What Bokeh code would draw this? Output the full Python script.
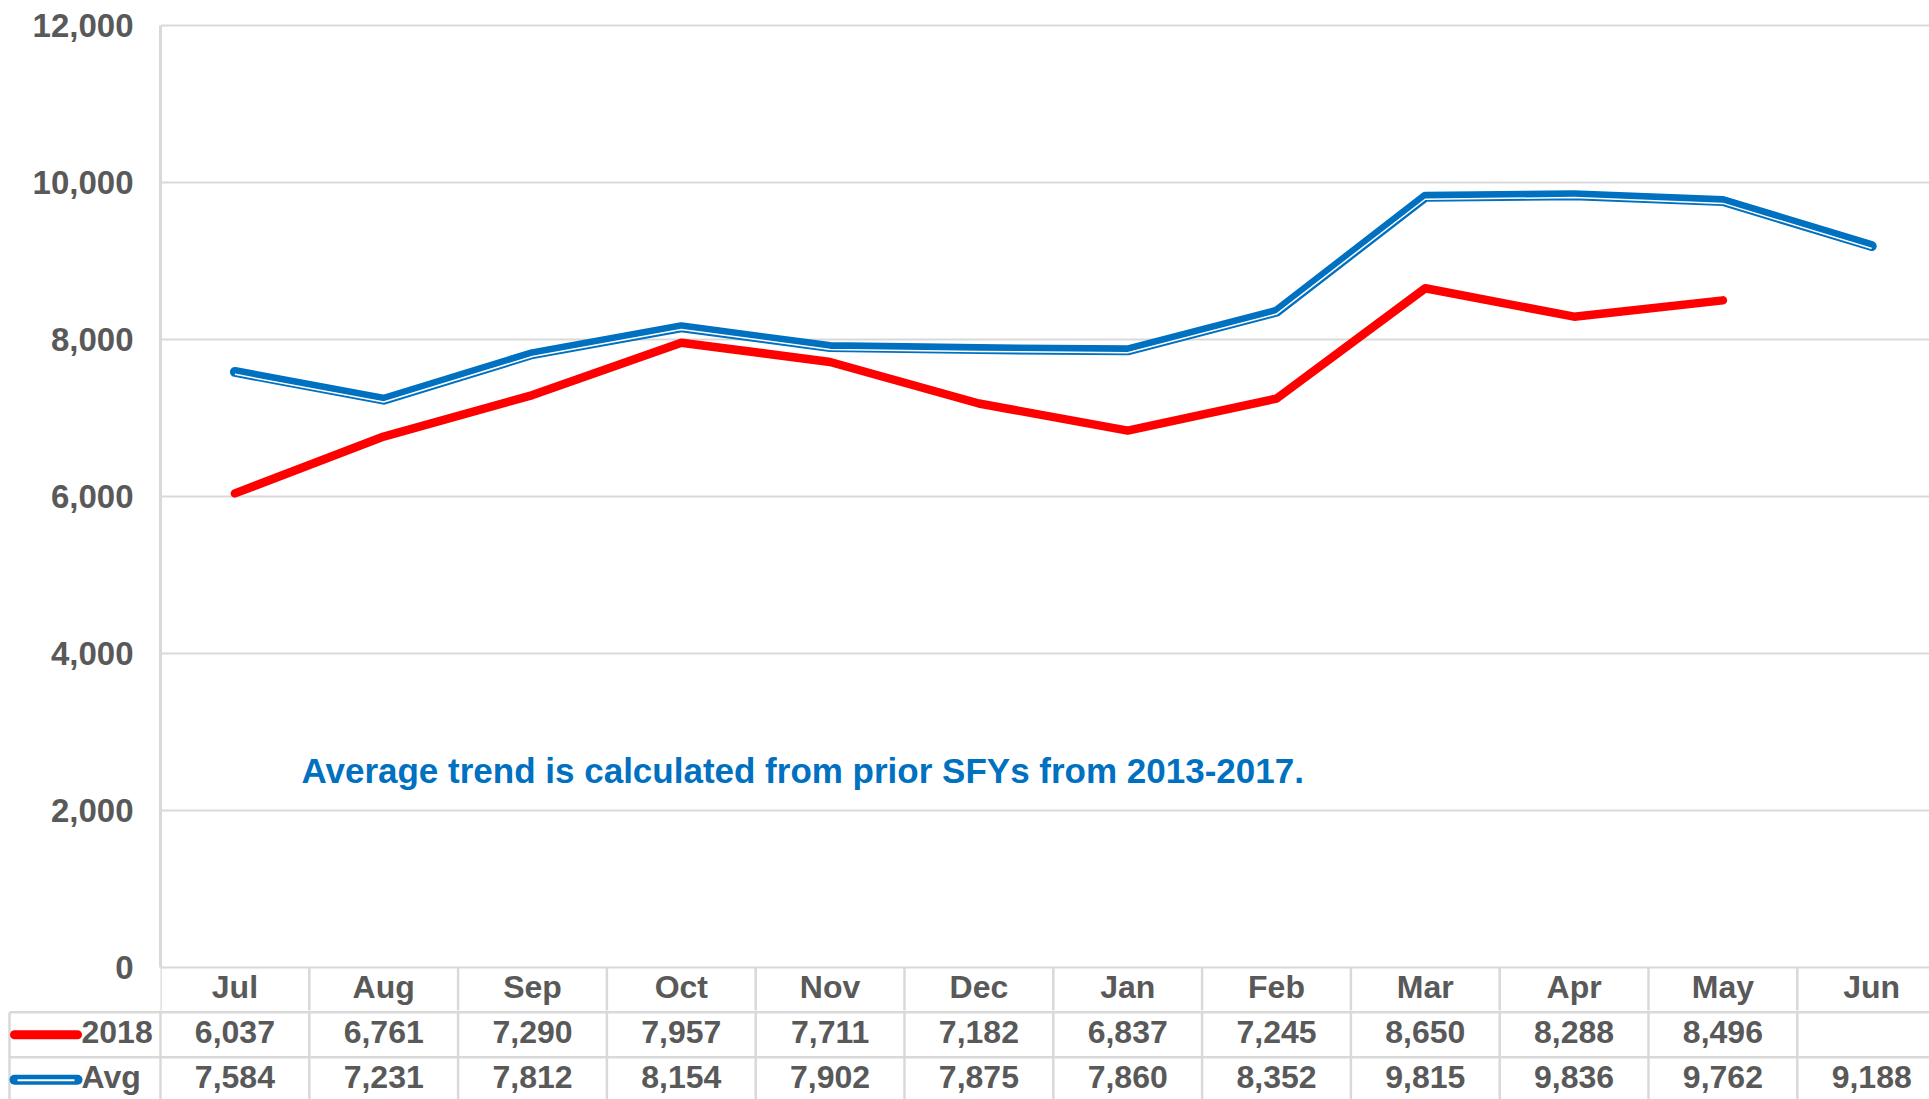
from bokeh.plotting import figure
from bokeh.layouts import column
from bokeh.models import Range1d, FixedTicker
from bokeh.core.properties import value
from bokeh.embed import file_html
from bokeh.resources import INLINE

# ---------------- data ----------------
months = ["Jul", "Aug", "Sep", "Oct", "Nov", "Dec", "Jan", "Feb", "Mar", "Apr", "May", "Jun"]
series_2018 = [6037, 6761, 7290, 7957, 7711, 7182, 6837, 7245, 8650, 8288, 8496]
series_avg = [7584, 7231, 7812, 8154, 7902, 7875, 7860, 8352, 9815, 9836, 9762, 9188]
series_names = ["2018", "Avg"]
y_ticks = [0, 2000, 4000, 6000, 8000, 10000, 12000]
y_tick_labels = ["0", "2,000", "4,000", "6,000", "8,000", "10,000", "12,000"]
note = "Average trend is calculated from prior SFYs from 2013-2017."

# ---------------- style / layout ----------------
RED = "#FF0000"
BLUE = "#0070C0"
TXT = "#595959"
GRID = "#D9D9D9"
FONT = "Liberation Sans"

W = 1929
H_TOTAL = 1099
FRAME_L = 160
FRAME_T = 20
FRAME_B = 1010          # chart frame includes the header (month) row
H1 = FRAME_B
H2 = H_TOTAL - H1
ZERO_Y = 966.8
TOP_Y = 24.8
CW = 148.8
ROW_H = 45
TXT_SHIFT = 2.5

ppu = (ZERO_Y - TOP_Y) / 12000.0
y0 = -(FRAME_B - ZERO_Y) / ppu
y1 = y0 + (FRAME_B - FRAME_T) / ppu
xmax = (W - FRAME_L) / CW


def py2y(py):
    return (ZERO_Y - py) / ppu


p = figure(width=W, height=H1, x_range=Range1d(0, xmax), y_range=Range1d(y0, y1),
           output_backend="svg", toolbar_location=None, x_axis_location=None,
           min_border_left=FRAME_L, min_border_top=FRAME_T,
           min_border_bottom=0, min_border_right=0)
p.frame_align = False
p.outline_line_color = None
p.background_fill_color = "white"
p.border_fill_color = "white"
p.xgrid.visible = False
p.ygrid.ticker = FixedTicker(ticks=y_ticks)
p.ygrid.grid_line_color = GRID
p.ygrid.grid_line_width = 2

ax = p.yaxis[0]
ax.ticker = FixedTicker(ticks=y_ticks)
ax.major_label_overrides = {t: l for t, l in zip(y_ticks, y_tick_labels)}
ax.bounds = (0, 12000)
ax.axis_line_color = GRID
ax.axis_line_width = 3
ax.major_tick_line_color = None
ax.minor_tick_line_color = None
ax.major_tick_out = 0
ax.major_tick_in = 0
ax.major_label_standoff = 27
ax.major_label_text_font = FONT
ax.major_label_text_font_style = "bold"
ax.major_label_text_font_size = "33px"
ax.major_label_text_color = TXT

xs = [i + 0.5 for i in range(len(months))]

# Avg: compound (thick-thin) line
p.line(xs, series_avg, line_color=BLUE, line_width=10, line_cap="round", line_join="round")
off = 2.4 / ppu
p.line(xs, [v - off for v in series_avg], line_color="white", line_width=1.5, line_join="round")
# 2018
p.line(xs[:len(series_2018)], series_2018, line_color=RED, line_width=8.5,
       line_cap="round", line_join="round")

p.text(x=[(301 - FRAME_L) / CW], y=[py2y(770)], text=[note],
       text_font=value(FONT), text_font_style="bold", text_font_size="35px",
       text_color=BLUE, text_align="left", text_baseline="alphabetic")

common = dict(text_font=value(FONT), text_font_style="bold", text_font_size="32px",
              text_color=TXT, text_baseline="middle")

# header row of the data table (inside chart frame, below zero)
edges_u = list(range(len(months) + 1))
p.segment(x0=edges_u, y0=[0] * len(edges_u), x1=edges_u, y1=[y0 - 50] * len(edges_u),
          line_color=GRID, line_width=2.5)
p.text(x=xs, y=[py2y(ZERO_Y + ROW_H / 2 - TXT_SHIFT)] * len(months), text=months,
       text_align="center", **common)

# ---------------- data rows ----------------
t = figure(width=W, height=H2, x_range=Range1d(0, W),
           y_range=Range1d(H_TOTAL, H1),
           output_backend="svg", toolbar_location=None,
           x_axis_location=None, y_axis_location=None, min_border=0)
t.frame_align = False
t.outline_line_color = None
t.grid.visible = False
t.background_fill_color = "white"
t.border_fill_color = "white"

col_edges = [FRAME_L + k * CW for k in range(len(months) + 1)]
t.segment(x0=col_edges, y0=[H1 - 5] * len(col_edges), x1=col_edges,
          y1=[H_TOTAL + 5] * len(col_edges), line_color=GRID, line_width=2.5)
row_lines = [ZERO_Y + ROW_H * r for r in (1, 2)]
t.segment(x0=[9, 9], y0=row_lines, x1=[W + 5] * 2, y1=row_lines,
          line_color=GRID, line_width=2.5)
t.segment(x0=[9], y0=[row_lines[0]], x1=[9], y1=[H_TOTAL + 5],
          line_color=GRID, line_width=2.5)

col_x = [FRAME_L + (i + 0.5) * CW for i in range(len(months))]
row_c = [ZERO_Y + ROW_H * (r + 0.5) for r in range(3)]
row_t = [c - TXT_SHIFT for c in row_c]
t.text(x=col_x[:len(series_2018)], y=[row_t[1]] * len(series_2018),
       text=[f"{v:,}" for v in series_2018], text_align="center", **common)
t.text(x=col_x, y=[row_t[2]] * len(series_avg),
       text=[f"{v:,}" for v in series_avg], text_align="center", **common)

# legend keys
t.segment(x0=[14], y0=[row_c[1]], x1=[77], y1=[row_c[1]], line_color=RED,
          line_width=9, line_cap="round")
t.segment(x0=[14], y0=[row_c[2]], x1=[77], y1=[row_c[2]], line_color=BLUE,
          line_width=10, line_cap="round")
t.segment(x0=[17], y0=[row_c[2] + 0.5], x1=[74], y1=[row_c[2] + 0.5], line_color="white",
          line_width=2)
t.text(x=[81, 81], y=[row_t[1], row_t[2]], text=series_names, text_align="left", **common)

layout = column(p, t, spacing=0)
open("out.html", "w").write(file_html(layout, INLINE))
